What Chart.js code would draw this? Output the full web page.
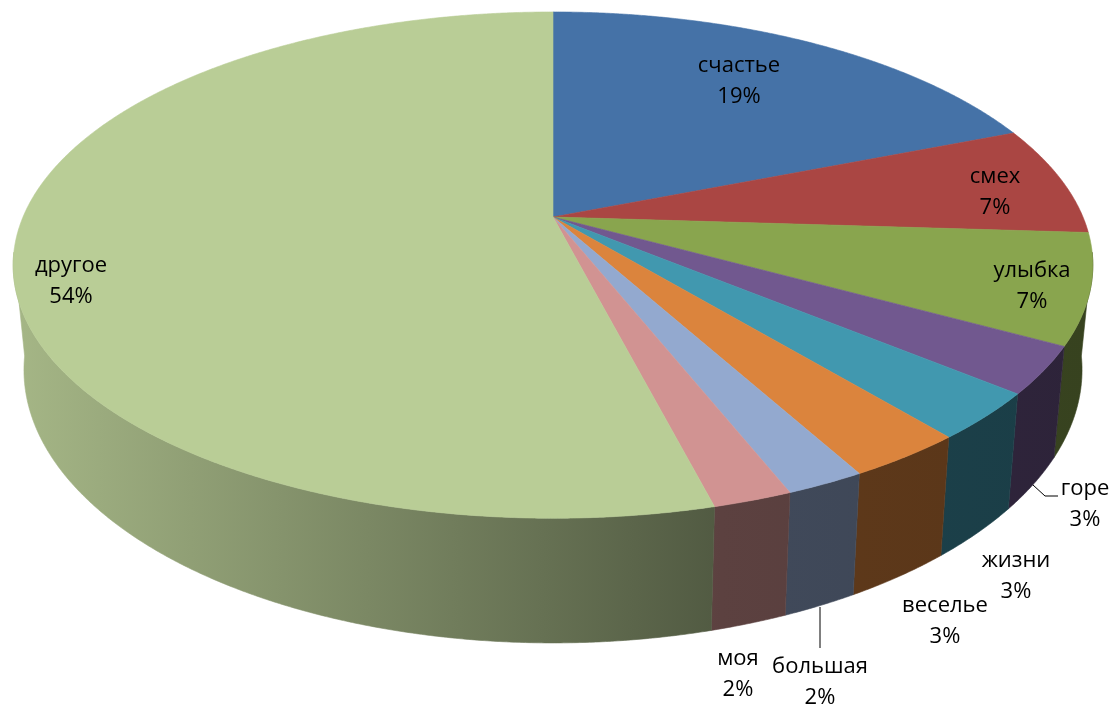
<!DOCTYPE html>
<html>
<head>
<meta charset="utf-8">
<script src="https://cdn.jsdelivr.net/npm/chart.js@4.4.0/dist/chart.umd.min.js"></script>
<style>
html,body{margin:0;padding:0;background:#ffffff;}
#wrap{width:1115px;height:710px;position:relative;overflow:hidden;}
canvas{display:block;}
</style>
</head>
<body>
<div id="wrap"><canvas id="c" width="1115" height="710"></canvas></div>
<script>
// ---- data ----
const categories = ['счастье','смех','улыбка','горе','жизни','веселье','большая','моя','другое'];
const shares = [19, 7, 7, 3, 3, 3, 2, 2, 54];
const sliceColors = ['#4572A7','#AA4643','#89A54E','#71588F','#4198AF','#DB843D','#93A9CF','#D19392','#B9CD96'];

// ---- label layout (text centre x, first baseline y) ----
const labelLayout = [
  [739, 72], [995, 183], [1032, 277], [1085, 495], [1016, 567],
  [945, 612], [820, 673], [738, 665], [71, 272]
];
const leaderLines = [
  [[1033, 485], [1045, 496], [1058, 496]],
  [[820, 607], [820, 648]]
];

// ---- 3D view parameters ----
const VIEW = {cx: 553, cy: 217, A: 530, B: 244, k: 0.19, T: 101, m: 0.98};

function proj(theta, r) {
  const u = r * Math.cos(theta), v = r * Math.sin(theta);
  const d = 1 - VIEW.k * v;
  return [VIEW.cx + VIEW.A * u / d, VIEW.cy + VIEW.B * v / d, d];
}
function projBottom(theta) {
  const p = proj(theta, 1);
  return [VIEW.cx + (p[0] - VIEW.cx) * VIEW.m, p[1] + VIEW.T / p[2]];
}
function shade(hex, f) {
  const n = parseInt(hex.slice(1), 16);
  const r = Math.round(((n >> 16) & 255) * f);
  const g = Math.round(((n >> 8) & 255) * f);
  const b = Math.round((n & 255) * f);
  return 'rgb(' + r + ',' + g + ',' + b + ')';
}

const pie3d = {
  id: 'pie3d',
  beforeDatasetsDraw(chart) {
    const ctx = chart.ctx;
    const meta = chart.getDatasetMeta(0);
    const arcs = meta.data;
    const total = shares.reduce((a, b) => a + b, 0);
    const a0 = Math.asin(VIEW.k) - 0.05, a1 = Math.PI - a0;
    ctx.save();
    // side walls
    arcs.forEach((arc, i) => {
      const p0 = arc.getProps(['startAngle', 'endAngle'], true);
      const s = Math.max(p0.startAngle, a0), e = Math.min(p0.endAngle, a1);
      if (e <= s) return;
      const n = Math.max(2, Math.ceil((e - s) / 0.005));
      ctx.beginPath();
      for (let j = 0; j <= n; j++) {
        const p = proj(s + (e - s) * j / n, 1);
        if (j) ctx.lineTo(p[0], p[1]); else ctx.moveTo(p[0], p[1]);
      }
      for (let j = n; j >= 0; j--) {
        const p = projBottom(s + (e - s) * j / n);
        ctx.lineTo(p[0], p[1]);
      }
      ctx.closePath();
      const col = arc.options.backgroundColor;
      const g = ctx.createLinearGradient(15, 0, 1090, 0);
      g.addColorStop(0, shade(col, 0.89));
      g.addColorStop(0.656, shade(col, 0.44));
      g.addColorStop(1, shade(col, 0.40));
      ctx.fillStyle = g;
      ctx.strokeStyle = g;
      ctx.lineWidth = 0.6;
      ctx.fill();
      ctx.stroke();
    });
    // top faces
    arcs.forEach((arc, i) => {
      const p0 = arc.getProps(['startAngle', 'endAngle'], true);
      const s = p0.startAngle, e = p0.endAngle;
      const n = Math.max(2, Math.ceil((e - s) / 0.005));
      ctx.beginPath();
      ctx.moveTo(VIEW.cx, VIEW.cy);
      for (let j = 0; j <= n; j++) {
        const p = proj(s + (e - s) * j / n, 1);
        ctx.lineTo(p[0], p[1]);
      }
      ctx.closePath();
      ctx.fillStyle = arc.options.backgroundColor;
      ctx.strokeStyle = arc.options.backgroundColor;
      ctx.lineWidth = 0.6;
      ctx.fill();
      ctx.stroke();
    });
    // leader lines
    ctx.strokeStyle = '#000';
    ctx.lineWidth = 1;
    leaderLines.forEach(pts => {
      ctx.beginPath();
      pts.forEach((p, j) => j ? ctx.lineTo(p[0], p[1]) : ctx.moveTo(p[0], p[1]));
      ctx.stroke();
    });
    // labels
    ctx.fillStyle = '#000';
    ctx.font = '22px "Open Sans"';
    ctx.textAlign = 'center';
    ctx.textBaseline = 'alphabetic';
    categories.forEach((c, i) => {
      const [x, y] = labelLayout[i];
      ctx.fillText(c, x, y);
      ctx.fillText(Math.round(shares[i] / total * 100) + '%', x, y + 31);
    });
    ctx.restore();
    return false;
  }
};

new Chart(document.getElementById('c'), {
  type: 'pie',
  data: {
    labels: categories,
    datasets: [{data: shares, backgroundColor: sliceColors, borderWidth: 0}]
  },
  options: {
    responsive: false,
    animation: false,
    events: [],
    plugins: {legend: {display: false}, tooltip: {enabled: false}}
  },
  plugins: [pie3d]
});
</script>
</body>
</html>
